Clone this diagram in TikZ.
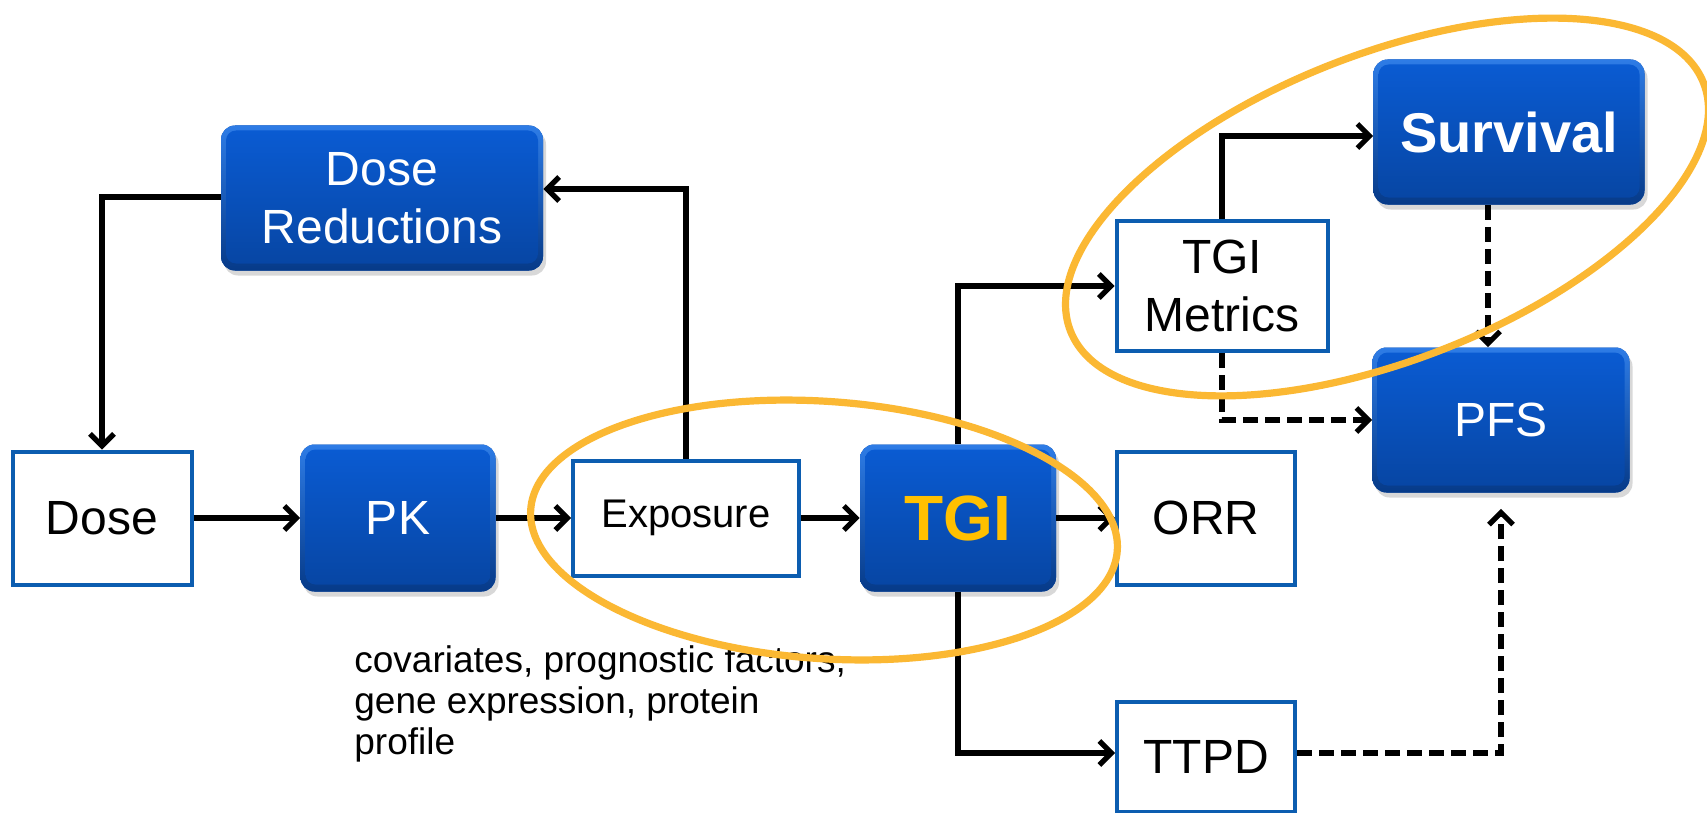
\documentclass[tikz,border=0pt]{standalone}
\usepackage{fontspec}
\setmainfont{Liberation Sans}
\usetikzlibrary{arrows.meta,shadows,calc}
\definecolor{boxblue}{HTML}{0A5BD2}
\definecolor{boxbluedark}{HTML}{0746A4}
\definecolor{rimlight}{HTML}{2E7CE6}
\definecolor{rimdark}{HTML}{063A88}
\definecolor{edgeblue}{HTML}{0C5DB0}
\definecolor{ringorange}{HTML}{FBB833}
\definecolor{tgigold}{HTML}{FFC000}
\begin{document}
\begin{tikzpicture}[x=0.5pt,y=-0.5pt,
  bluebox/.style={rectangle, rounded corners=7pt, fill=boxbluedark,
    path picture={
      \shade[top color=rimlight, bottom color=rimdark]
        (path picture bounding box.south west) rectangle (path picture bounding box.north east);
      \shade[top color=boxblue, bottom color=boxbluedark, rounded corners=5pt]
        ([shift={(2.5pt,-2.5pt)}]path picture bounding box.north west) rectangle
        ([shift={(-2.5pt,3.5pt)}]path picture bounding box.south east);
    },
    text=white, font=\fontsize{24}{29}\selectfont, align=center,
    drop shadow={shadow xshift=1.5pt, shadow yshift=-2.5pt, opacity=0.3}},
  whitebox/.style={rectangle, draw=edgeblue, line width=2pt, fill=white,
    font=\fontsize{24}{29}\selectfont, align=center},
  arr/.style={line width=2.6pt, -{Straight Barb[length=6pt,width=12pt]}},
  darr/.style={arr, dash pattern=on 7.5pt off 3.5pt},
  ring/.style={draw=ringorange, line width=3.6pt}]
\useasboundingbox (0,0) rectangle (1707,813);
\fill[white] (0,0) rectangle (1707,813);

% nodes
\node[whitebox, minimum width=89.5pt, minimum height=66.5pt] (dose) at (102,518) {Dose};
\node[bluebox, minimum width=97.5pt, minimum height=73.5pt] (pk) at (398,518) {PK};
\node[whitebox, minimum width=113pt, minimum height=57.5pt, font=\fontsize{20}{24}\selectfont] (exposure) at (686,518) {Exposure};
\node[bluebox, minimum width=98pt, minimum height=73.5pt, text=tgigold, font=\fontsize{32}{38}\selectfont\bfseries] (tgi) at (958,518) {TGI};
\node[whitebox, minimum width=89pt, minimum height=66.5pt] (orr) at (1206,518) {ORR};
\node[whitebox, minimum width=89pt, minimum height=55pt] (ttpd) at (1206,757) {TTPD};
\node[whitebox, minimum width=105.5pt, minimum height=65pt] (metrics) at (1222,286) {TGI\\Metrics};
\node[bluebox, minimum width=135.5pt, minimum height=72.5pt, font=\fontsize{28}{34}\selectfont\bfseries] (survival) at (1509,132) {Survival};
\node[bluebox, minimum width=128.5pt, minimum height=72.5pt] (pfs) at (1501,420) {PFS};
\node[bluebox, minimum width=161pt, minimum height=72.5pt] (dr) at (382,198) {Dose\\Reductions};
\node[anchor=base west, align=left, inner sep=0pt, font=\fontsize{18.5}{20.5}\selectfont] (cov) at (354,754)
  {covariates, prognostic factors,\\gene expression, protein\\profile};

% connectors
\draw[arr] (dose.east) -- (dose.east -| pk.west);
\draw[arr] (pk.east) -- (pk.east -| exposure.west);
\draw[arr] (exposure.east) -- (exposure.east -| tgi.west);
\draw[arr] (tgi.east) -- (tgi.east -| orr.west);
\draw[arr] (exposure.north) |- ([yshift=4.5pt]dr.east);
\draw[arr] ([yshift=0.5pt]dr.west) -| (dose.north);
\draw[arr] (tgi.north) |- (metrics.west);
\draw[arr] (tgi.south) |- ([yshift=2pt]ttpd.west);
\draw[arr] (metrics.north) |- ([yshift=-2pt]survival.west);
\draw[darr] ([xshift=-10.5pt]survival.south) -- ([xshift=-10.5pt]survival.south |- pfs.north);
\draw[darr] (metrics.south) |- (pfs.west);
\coordinate (pfstip) at ([yshift=-8pt]pfs.south);
\draw[darr] ([yshift=2pt]ttpd.east) -| (pfstip);

% highlight rings
\draw[ring, rotate around={-4:(824,530)}] (824,530) ellipse [x radius=147pt, y radius=64.3pt];
\draw[ring, rotate around={21.4:(1387,207)}] (1387,207) ellipse [x radius=170pt, y radius=76.5pt];
\end{tikzpicture}
\end{document}
